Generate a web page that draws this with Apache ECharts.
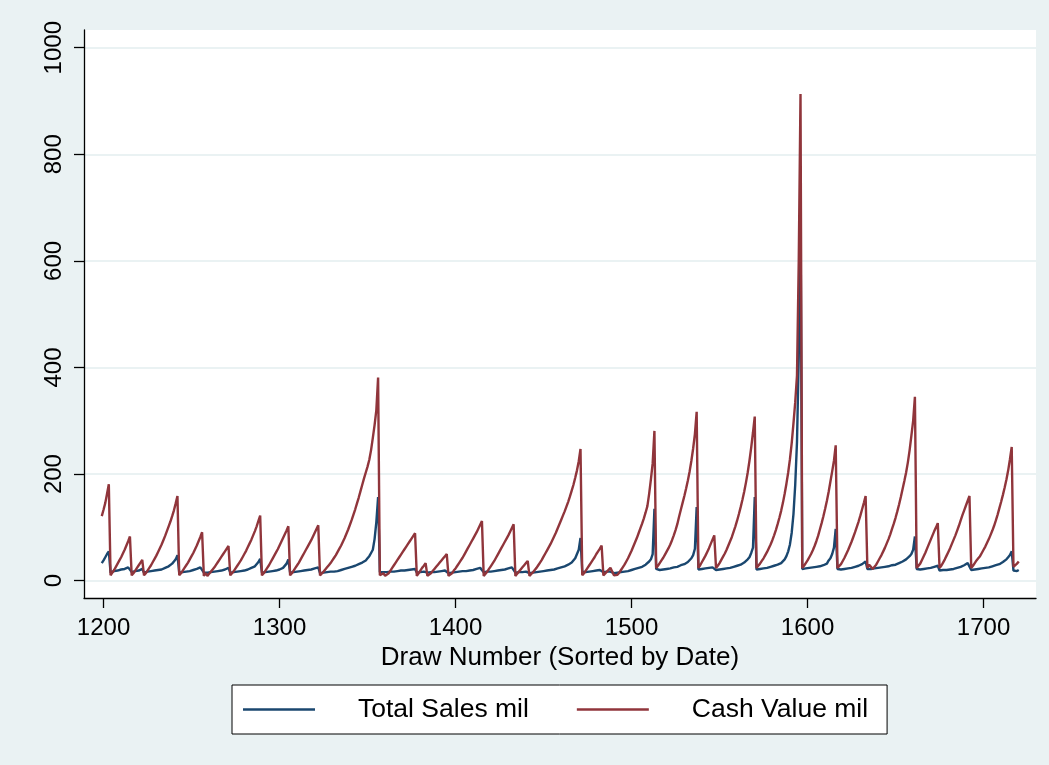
<!DOCTYPE html>
<html>
<head>
<meta charset="utf-8">
<script src="https://cdn.jsdelivr.net/npm/echarts@6/dist/echarts.min.js"></script>
<style>
html,body{margin:0;padding:0;background:#eaf2f3;}
#chart{width:1049px;height:765px;}
</style>
</head>
<body>
<div id="chart"></div>
<script>
// Draw number of the first value in each series (values are one per draw)
const firstDraw = 1199;

// Cash Value (millions), draws 1199..1720
const cashValue = [
  121,
  133,146,163,181,10,15,20,26,32,38,          // 1200
  44,51,58,66,74,83,10,14,19,24,              // 1210
  29,34,39,10,14,19,24,29,35,41,              // 1220
  47,54,61,68,76,84,93,102,111,121,           // 1230
  132,145,159,10,14,19,24,29,34,40,           // 1240
  46,52,59,66,74,82,91,9,14,9,                // 1250
  13,17,21,25,30,35,40,45,50,55,              // 1260
  60,65,10,14,18,23,28,33,38,44,              // 1270
  50,56,63,70,77,85,93,102,112,122,           // 1280
  10,14,19,24,29,35,41,47,53,59,              // 1290
  66,73,80,87,94,102,10,14,19,24,             // 1300
  29,34,40,46,52,58,64,70,76,83,              // 1310
  90,97,104,10,13,17,21,25,29,33,             // 1320
  38,43,48,54,60,66,73,80,88,96,              // 1330
  105,114,124,134,145,156,168,180,192,203,    // 1340
  214,227,245,268,292,320,381,10,11,14,       // 1350
  9,10,14,19,24,29,34,39,44,49,               // 1360
  54,59,64,69,74,79,84,89,9,14,               // 1370
  19,24,28,33,9,10,14,18,22,26,               // 1380
  30,34,38,42,46,50,9,10,14,19,               // 1390
  23,28,33,38,43,49,55,61,67,73,              // 1400
  79,85,91,98,105,112,9,12,17,22,             // 1410
  27,32,37,43,49,55,61,67,73,79,              // 1420
  85,92,99,106,9,13,17,21,25,29,              // 1430
  33,37,9,12,16,20,24,29,34,39,               // 1440
  45,51,57,63,69,76,83,90,98,106,             // 1450
  114,122,130,139,148,158,169,180,193,207,    // 1460
  224,247,10,14,19,24,29,34,39,44,            // 1470
  50,55,60,66,10,13,17,20,24,27,              // 1480
  10,10,11,15,20,25,30,36,42,49,              // 1490
  56,64,72,80,89,98,107,117,128,140,          // 1500
  163,190,220,281,24,28,33,38,43,49,          // 1510
  55,61,68,76,85,95,106,120,133,146,          // 1520
  159,173,188,205,225,248,275,317,24,29,      // 1530
  35,41,47,54,61,69,77,85,24,28,              // 1540
  33,39,45,51,58,66,74,82,92,102,             // 1550
  113,125,138,152,167,184,203,225,250,278,    // 1560
  308,24,28,32,37,42,48,54,61,68,             // 1570
  76,85,95,106,118,131,146,163,182,203,       // 1580
  228,258,295,335,385,600,913,24,28,33,       // 1590
  38,44,50,57,65,74,84,96,108,121,            // 1600
  135,150,167,186,205,225,254,24,25,31,       // 1610
  37,43,50,57,65,73,82,91,101,111,            // 1620
  122,134,146,159,24,30,26,22,25,30,          // 1630
  36,42,48,55,62,70,78,87,97,107,             // 1640
  118,130,143,157,172,187,203,222,245,272,    // 1650
  300,345,24,26,32,39,46,53,61,69,            // 1660
  77,85,93,100,108,24,28,34,40,47,            // 1670
  54,61,69,77,85,94,103,113,123,132,          // 1680
  141,150,159,24,28,33,38,42,46,52,           // 1690
  58,64,71,78,86,94,103,113,124,136,          // 1700
  148,161,175,190,207,228,251,26,29,32,       // 1710
  36                                          // 1720
];

// Total Sales (millions), draws 1199..1720
const totalSales = [
  33,
  38,44,50,55,15,17,18,17,19,20,             // 1200
  21,19,22,24,25,27,16,17,18,17,             // 1210
  19,20,22,15,16,17,16,18,18,19,             // 1220
  19,20,20,21,22,24,25,27,29,32,             // 1230
  36,40,48,15,16,16,17,17,18,18,             // 1240
  19,20,21,22,23,25,28,15,16,15,             // 1250
  16,16,17,17,18,18,19,19,20,21,             // 1260
  22,24,15,16,16,17,17,18,18,19,             // 1270
  19,20,21,22,24,25,27,30,35,41,             // 1280
  15,16,16,17,17,18,18,19,19,20,             // 1290
  21,22,24,27,32,40,15,16,16,17,             // 1300
  17,18,18,19,19,20,20,21,21,22,             // 1310
  23,24,25,14,15,15,16,16,16,17,             // 1320
  17,17,18,18,19,20,21,22,23,24,             // 1330
  25,26,27,28,29,31,33,34,36,38,             // 1340
  42,46,52,58,78,110,157,16,15,16,           // 1350
  16,16,16,17,17,17,18,18,18,19,             // 1360
  19,19,20,20,20,21,21,22,15,16,             // 1370
  16,17,17,18,15,15,16,16,16,17,             // 1380
  17,17,18,18,19,20,14,14,15,15,             // 1390
  16,16,17,17,18,18,18,19,19,20,             // 1400
  20,21,22,23,24,26,16,16,17,17,             // 1410
  17,18,18,19,19,20,20,21,21,22,             // 1420
  23,24,25,26,15,15,16,16,16,17,             // 1430
  17,18,14,14,15,15,16,16,17,17,             // 1440
  18,18,19,19,20,20,21,22,23,24,             // 1450
  25,26,27,28,30,32,34,37,42,50,             // 1460
  58,80,17,16,16,17,17,17,18,18,             // 1470
  19,19,20,21,16,16,17,17,17,18,             // 1480
  14,14,15,15,16,16,17,17,18,19,             // 1490
  20,21,22,23,24,25,26,28,30,33,             // 1500
  36,40,50,135,22,21,20,21,21,22,            // 1510
  22,23,23,24,25,25,26,27,29,30,             // 1520
  31,33,35,38,42,48,60,138,21,21,            // 1530
  22,22,23,23,24,24,25,26,20,20,             // 1540
  21,21,22,22,23,23,24,25,26,27,             // 1550
  28,29,30,32,34,36,40,44,52,62,             // 1560
  157,21,21,22,22,23,23,24,25,26,            // 1570
  27,28,29,30,31,33,36,40,46,55,             // 1580
  68,90,125,180,260,420,700,22,22,23,        // 1590
  23,24,24,25,25,26,27,27,28,29,             // 1600
  30,32,38,42,50,62,97,22,21,21,             // 1610
  22,22,23,23,24,24,25,26,27,28,             // 1620
  29,31,33,36,22,23,22,22,23,23,             // 1630
  24,24,25,25,26,26,27,28,29,29,             // 1640
  30,31,33,34,36,38,40,42,46,50,             // 1650
  58,83,22,21,21,22,22,23,23,24,             // 1660
  24,25,26,27,28,19,19,20,20,20,             // 1670
  21,21,22,22,23,24,25,26,27,29,             // 1680
  31,33,36,20,20,21,21,22,22,23,             // 1690
  23,24,24,25,26,27,28,29,30,31,             // 1700
  33,35,37,40,44,48,55,19,21,18,             // 1710
  20                                         // 1720
];

const xTickValues = [1200, 1300, 1400, 1500, 1600, 1700];
const yTickValues = [0, 200, 400, 600, 800, 1000];
const seriesNames = ['Total Sales mil', 'Cash Value mil'];
const xTitle = 'Draw Number (Sorted by Date)';

const FONT = 'Liberation Sans, Arial, sans-serif';
const toPairs = arr => arr.map((v, i) => [firstDraw + i, v]);
const plain = v => String(v);

const chart = echarts.init(document.getElementById('chart'), null, {renderer: 'canvas'});
chart.setOption({
  animation: false,
  backgroundColor: '#eaf2f3',
  grid: {left: 84, right: 13, top: 30, bottom: 167, show: true, backgroundColor: '#ffffff', borderWidth: 0},
  xAxis: {
    type: 'value', min: 1188.9, max: 1729.8,
    axisLine: {show: true, onZero: false, lineStyle: {color: '#000', width: 1.3}},
    axisTick: {show: true, inside: false, length: 10, customValues: xTickValues, lineStyle: {color: '#000', width: 1.3}},
    axisLabel: {customValues: xTickValues, formatter: plain, margin: 18, fontSize: 24, color: '#000', fontFamily: FONT},
    splitLine: {show: false},
    name: xTitle, nameLocation: 'middle', nameGap: 46,
    nameTextStyle: {fontSize: 26, color: '#000', fontFamily: FONT}
  },
  yAxis: {
    type: 'value', min: -32.5, max: 1033.2,
    axisLine: {show: true, onZero: false, lineStyle: {color: '#000', width: 1.3}},
    axisTick: {show: true, inside: false, length: 10, customValues: yTickValues, lineStyle: {color: '#000', width: 1.3}},
    axisLabel: {customValues: yTickValues, formatter: plain, rotate: 90, margin: 18, fontSize: 24, color: '#000', fontFamily: FONT},
    splitLine: {show: true, customValues: yTickValues, lineStyle: {color: '#eaf2f3', width: 2}}
  },
  legend: {
    data: seriesNames.map(n => ({name: n, icon: 'rect'})),
    left: 232, top: 685,
    orient: 'horizontal',
    itemWidth: 72, itemHeight: 2.5, itemGap: 48,
    padding: [11, 19, 11, 11],
    borderColor: '#000', borderWidth: 1, backgroundColor: '#ffffff',
    textStyle: {fontSize: 26.5, color: '#000', fontFamily: FONT, padding: [0, 0, 0, 38]}
  },
  series: [
    {
      name: seriesNames[0], type: 'line', symbol: 'none', silent: true,
      lineStyle: {color: '#1a476f', width: 2.4}, itemStyle: {color: '#1a476f'},
      data: toPairs(totalSales)
    },
    {
      name: seriesNames[1], type: 'line', symbol: 'none', silent: true,
      lineStyle: {color: '#90353b', width: 2.4}, itemStyle: {color: '#90353b'},
      data: toPairs(cashValue)
    }
  ]
});
</script>
</body>
</html>
